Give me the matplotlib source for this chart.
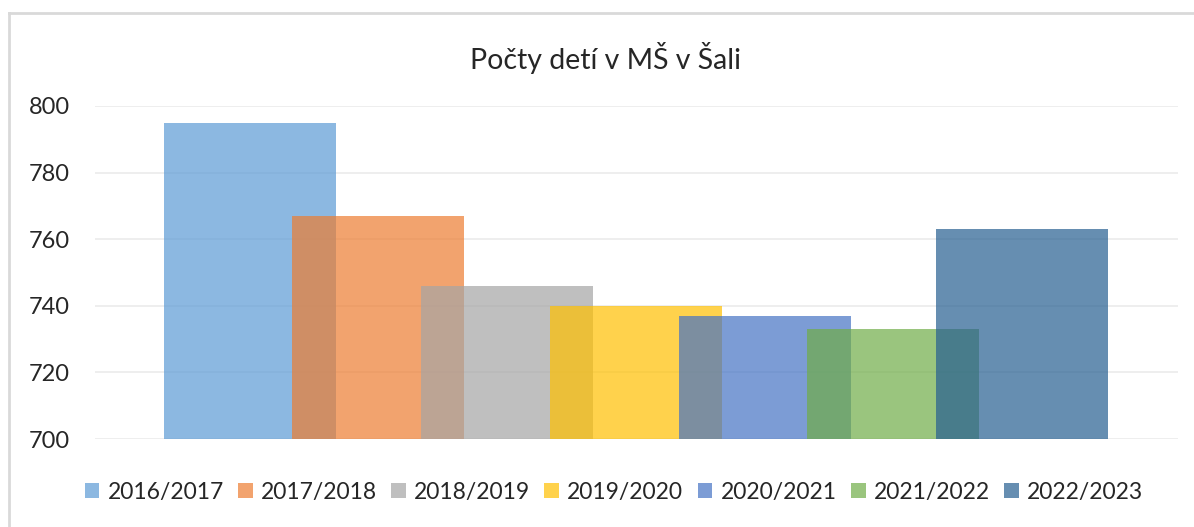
import matplotlib

matplotlib.use("Agg")
import matplotlib.pyplot as plt
from matplotlib.lines import Line2D
from matplotlib.patches import Patch

plt.rcParams["font.family"] = ["Lato", "DejaVu Sans"]

# school years and number of children
years = ["2016/2017", "2017/2018", "2018/2019", "2019/2020",
         "2020/2021", "2021/2022", "2022/2023"]
children = [795, 767, 746, 740, 737, 733, 763]
colors = ["#5B9BD5", "#ED7D31", "#A5A5A5", "#FFC000",
          "#4472C4", "#70AD47", "#255E91"]
yticks = [700, 720, 740, 760, 780, 800]

fig = plt.figure(figsize=(11.94, 5.27), dpi=100)
ax = fig.add_axes([95 / 1194, 1 - 439 / 527, (1178 - 95) / 1194, (439 - 106) / 527])

for i, (v, c) in enumerate(zip(children, colors)):
    ax.bar(i, v - 700, bottom=700, width=1.336, color=c, alpha=0.7,
           edgecolor="none", zorder=2)

ax.set_xlim(-1.2, 7.21)
ax.set_ylim(700, 800)
ax.set_yticks(yticks)
ax.set_yticklabels([str(t) for t in yticks], fontsize=17, color="#262626")
ax.set_xticks([])
ax.tick_params(axis="y", length=0, pad=18)
ax.grid(axis="y", color="#EBEBEB", lw=1.2, zorder=0)
for s in ax.spines.values():
    s.set_visible(False)

fig.text(0.507, 1 - 58 / 527, "Počty detí v MŠ v Šali", ha="center", va="center",
         fontsize=20.5, color="#262626")

handles = [Patch(facecolor=c, alpha=0.7, edgecolor="none") for c in colors]
fig.legend(handles, years, loc="center", bbox_to_anchor=(0.514, 1 - 492 / 527),
           ncol=7, frameon=False, fontsize=16.5, handlelength=0.65,
           handleheight=0.65, handletextpad=0.35, columnspacing=0.62,
           labelcolor="#262626")

# chart border (left and top edges visible)
fig.add_artist(Line2D([9 / 1194, 9 / 1194], [0, 1 - 13 / 527], color="#D9D9D9", lw=2,
                      transform=fig.transFigure))
fig.add_artist(Line2D([9 / 1194, 1], [1 - 13 / 527, 1 - 13 / 527], color="#D9D9D9", lw=2,
                      transform=fig.transFigure))

fig.savefig("out.png", dpi=100)
